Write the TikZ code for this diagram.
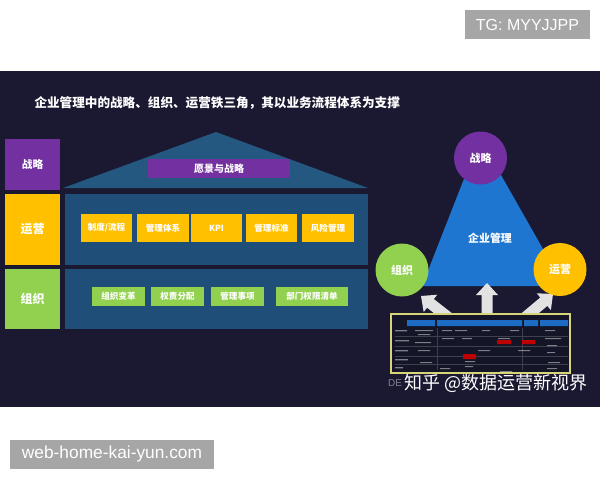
\documentclass[tikz,border=0pt]{standalone}
\usepackage{fontspec}
\setmainfont{Liberation Sans}
\newfontfamily\cjk{Noto Sans CJK SC}

\definecolor{navybg}{RGB}{27,25,50}
\definecolor{plum}{RGB}{114,48,160}
\definecolor{amber}{RGB}{255,192,0}
\definecolor{leaf}{RGB}{146,208,80}
\definecolor{houseblue}{RGB}{31,78,121}
\definecolor{roofblue}{RGB}{36,88,128}
\definecolor{triblue}{RGB}{30,118,208}
\definecolor{arrowgray}{RGB}{226,226,226}
\definecolor{taggray}{RGB}{166,166,166}
\definecolor{tabedge}{RGB}{214,214,120}
\definecolor{tabbg}{RGB}{20,22,40}
\definecolor{tabhead}{RGB}{28,108,196}

\tikzset{every picture/.style={line width=0.75pt}}
\tikzset{
  zh/.style={inner sep=0.75pt, text=white, font=\cjk\bfseries\fontsize{#1}{#1}\selectfont},
  tagtext/.style={inner sep=0.75pt, text=white, font=\fontsize{#1}{#1}\selectfont},
  bigarrow/.style={fill=arrowgray, draw=none},
  tabmark/.style={fill=white, fill opacity=0.45},
}

\begin{document}
\begin{tikzpicture}[x=0.75pt,y=0.75pt,yscale=-1,xscale=1]
\useasboundingbox (0,0) rectangle (600,480);
\fill [white] (0,0) rectangle (600,480);

%Shape: Rectangle [tag top]
\fill [taggray] (465,10) rectangle (590,39);
%Shape: Rectangle [tag bottom]
\fill [taggray] (10,440) rectangle (214,469);
%Shape: Rectangle [dark panel]
\fill [navybg] (0,71) rectangle (600,407);

%Shape: Rectangle [left column]
\fill [plum] (5,139) rectangle (60,190);
\fill [amber] (5,194) rectangle (60,265);
\fill [leaf] (5,269) rectangle (60,329);

%Shape: Triangle [roof]
\fill [roofblue] (63,188) -- (216,132) -- (368,188) -- cycle ;
%Shape: Rectangle [vision bar]
\fill [plum] (148,159) rectangle (290,178);
%Shape: Rectangle [house floors]
\fill [houseblue] (65,194) rectangle (368,265);
\fill [houseblue] (65,269) rectangle (368,329);

%Shape: Rectangle [operation items]
\fill [amber] (81,214) rectangle (132,242);
\fill [amber] (137,214) rectangle (189,242);
\fill [amber] (191,214) rectangle (242,242);
\fill [amber] (246,214) rectangle (297,242);
\fill [amber] (302,214) rectangle (354,242);
%Shape: Rectangle [organisation items]
\fill [leaf] (92,287) rectangle (145,306);
\fill [leaf] (151,287) rectangle (204,306);
\fill [leaf] (211,287) rectangle (264,306);
\fill [leaf] (276,287) rectangle (348,306);

%Shape: Triangle [iron triangle]
\fill [triblue] (480,138) -- (422,286) -- (564,286) -- cycle ;

%Shape: Block arrows
\fill [bigarrow, shift={(487,283)}] (0,0) -- (11,12) -- (5.5,12) -- (5.5,36) -- (-5.5,36) -- (-5.5,12) -- (-11,12) -- cycle ;
\fill [bigarrow, shift={(421,296)}, rotate=-52] (0,0) -- (11,12) -- (5.5,12) -- (5.5,40) -- (-5.5,40) -- (-5.5,12) -- (-11,12) -- cycle ;
\fill [bigarrow, shift={(553,294)}, rotate=50] (0,0) -- (11,12) -- (5.5,12) -- (5.5,40) -- (-5.5,40) -- (-5.5,12) -- (-11,12) -- cycle ;

%Shape: Circle
\fill [plum] (480.5,158) circle [radius=26.5] ;
\fill [leaf] (402,270) circle [radius=26.5] ;
\fill [amber] (560,269.5) circle [radius=26.5] ;

%Shape: Rectangle [process table]
\draw [tabedge, fill=tabbg, line width=1.2] (391,314) rectangle (570,373) ;
\fill [tabhead] (407,320) rectangle (435,326) (437,320) rectangle (522,326) (524,320) rectangle (538,326) (540,320) rectangle (568,326) ;
\draw [white, opacity=0.18, line width=0.3] (395,336) -- (568,336) (395,346) -- (568,346) (395,356) -- (568,356) (395,364) -- (568,364) (437,328) -- (437,370) (522,328) -- (522,370) ;
\fill [red!75!black] (497,340) rectangle (511,344) (522,340) rectangle (535,344) (463,354) rectangle (476,359) ;
\fill [tabmark] (395,330) rectangle ++(12,1.4) (395,340) rectangle ++(14,1.4) (395,350) rectangle ++(13,1.4) (395,359) rectangle ++(13,1.4) (395,367) rectangle ++(8,1.4)
  (415,330) rectangle ++(18,1.2) (418,334) rectangle ++(12,1.2) (442,330) rectangle ++(10,1.2) (455,330) rectangle ++(12,1.2) (482,330) rectangle ++(8,1.2)
  (510,330) rectangle ++(9,1.2) (545,330) rectangle ++(10,1.2) (442,338) rectangle ++(12,1.2) (462,338) rectangle ++(10,1.2) (498,338) rectangle ++(12,1.2)
  (545,338) rectangle ++(16,1.2) (415,342) rectangle ++(16,1.2) (547,345) rectangle ++(10,1.2) (418,350) rectangle ++(12,1.2) (478,350) rectangle ++(12,1.2)
  (518,350) rectangle ++(12,1.2) (547,352) rectangle ++(8,1.2) (465,361) rectangle ++(10,1.2) (420,362) rectangle ++(12,1.2) (548,362) rectangle ++(12,1.2)
  (440,368) rectangle ++(10,1.2) (465,366) rectangle ++(8,1.2) (547,368) rectangle ++(10,1.2) (500,371) rectangle ++(12,1.2) ;

% Text Node
\draw (527.5,24.5) node [tagtext=12] (tg) {TG: MYYJJPP};
% Text Node
\draw (112,454.5) node [tagtext=13] (web) {web-home-kai-yun.com};
% Text Node
\draw (33,103) node [anchor=west][zh=9.45] (title) {企业管理中的战略、组织、运营铁三角，其以业务流程体系为支撑};
% Text Node
\draw (32.5,164.5) node [zh=8] (strat) {战略};
% Text Node
\draw (32.5,229.5) node [zh=9] (oper) {运营};
% Text Node
\draw (32.5,299) node [zh=9] (org) {组织};
% Text Node
\draw (219,168.5) node [zh=7.5] (vision) {愿景与战略};
% Text Node
\draw (106.5,228) node [zh=6.4] (op1) {制度/流程};
\draw (163,228) node [zh=6.4] (op2) {管理体系};
\draw (216.5,228) node [zh=6.4] (op3) {KPI};
\draw (271.5,228) node [zh=6.4] (op4) {管理标准};
\draw (328,228) node [zh=6.4] (op5) {风险管理};
% Text Node
\draw (118.5,296.5) node [zh=6.4] (og1) {组织变革};
\draw (177.5,296.5) node [zh=6.4] (og2) {权责分配};
\draw (237.5,296.5) node [zh=6.4] (og3) {管理事项};
\draw (312,296.5) node [zh=6.4] (og4) {部门权限清单};
% Text Node
\draw (490,238) node [zh=8.2] (core) {企业管理};
\draw (480.5,158) node [zh=8.2] (cstrat) {战略};
\draw (402,270) node [zh=8.2] (corg) {组织};
\draw (560,269.5) node [zh=8.2] (coper) {运营};
% Text Node
\draw (387,383) node [anchor=west][inner sep=0.5pt, text=white, text opacity=0.45, font=\fontsize{7.5}{7.5}\selectfont] (cap) {DE};
\draw (403,383) node [anchor=west][inner sep=0.5pt, text=white, font=\cjk\fontsize{13.5}{13.5}\selectfont] (mark) {知乎 @数据运营新视界};

\end{tikzpicture}
\end{document}
